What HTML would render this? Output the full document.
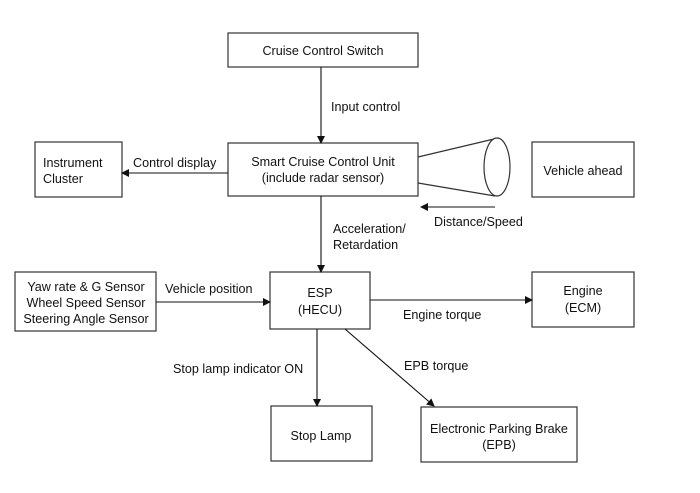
<!DOCTYPE html>
<html><head><meta charset="utf-8"><style>
body{margin:0;background:#fff;}
svg text{font-family:"Liberation Sans",sans-serif;font-size:12.6px;fill:#111;}
</style></head><body>
<svg width="700" height="488" viewBox="0 0 700 488" xmlns="http://www.w3.org/2000/svg">
<defs><marker id="a" markerWidth="8" markerHeight="8" refX="7" refY="4" orient="auto" markerUnits="userSpaceOnUse"><path d="M0,0 L8,4 L0,8 z" fill="#111"/></marker></defs>
<g fill="none" stroke="#333" stroke-width="1.2">
<rect x="228" y="33" width="190" height="34"/>
<rect x="228" y="143" width="190" height="53"/>
<rect x="35" y="142" width="87" height="55"/>
<rect x="532" y="142" width="102" height="55"/>
<rect x="270" y="272" width="100" height="57"/>
<rect x="15" y="272" width="141" height="59"/>
<rect x="532" y="272" width="102" height="55"/>
<rect x="271" y="406" width="101" height="55"/>
<rect x="421" y="407" width="156" height="55"/>
<line x1="418" y1="157" x2="494" y2="139"/>
<line x1="418" y1="183" x2="495" y2="196"/>
<ellipse cx="497" cy="167" rx="13" ry="29"/>
</g>
<g stroke="#111" stroke-width="1.1" marker-end="url(#a)">
<line x1="321" y1="67" x2="321" y2="143"/>
<line x1="228" y1="173" x2="122" y2="173"/>
<line x1="495" y1="207" x2="421" y2="207"/>
<line x1="321" y1="196" x2="321" y2="272"/>
<line x1="156" y1="302" x2="270" y2="302"/>
<line x1="370" y1="300" x2="532" y2="300"/>
<line x1="317" y1="329" x2="317" y2="406"/>
<line x1="345" y1="329" x2="434" y2="406"/>
</g>
<g text-anchor="middle">
<text x="323" y="55">Cruise Control Switch</text>
<text x="323" y="166">Smart Cruise Control Unit</text>
<text x="323" y="182">(include radar sensor)</text>
<text x="583" y="175">Vehicle ahead</text>
<text x="320" y="297">ESP</text>
<text x="320" y="314">(HECU)</text>
<text x="86" y="291">Yaw rate &amp; G Sensor</text>
<text x="86" y="307">Wheel Speed Sensor</text>
<text x="86" y="323">Steering Angle Sensor</text>
<text x="583" y="295">Engine</text>
<text x="583" y="312">(ECM)</text>
<text x="321" y="440">Stop Lamp</text>
<text x="499" y="433">Electronic Parking Brake</text>
<text x="499" y="449">(EPB)</text>
</g>
<text x="43" y="167">Instrument</text>
<text x="43" y="183">Cluster</text>
<text x="331" y="111">Input control</text>
<text x="133" y="167">Control display</text>
<text x="434" y="226">Distance/Speed</text>
<text x="333" y="233">Acceleration/</text>
<text x="333" y="249">Retardation</text>
<text x="165" y="293">Vehicle position</text>
<text x="403" y="319">Engine torque</text>
<text x="404" y="370">EPB torque</text>
<text x="173" y="373">Stop lamp indicator ON</text>
</svg>
</body></html>
